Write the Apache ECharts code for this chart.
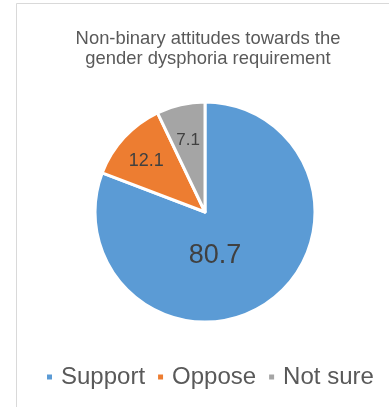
<!DOCTYPE html>
<html>
<head>
<meta charset="utf-8">
<script src="https://cdn.jsdelivr.net/npm/echarts@6/dist/echarts.min.js"></script>
<style>
  html, body { margin: 0; padding: 0; background: #fff; }
  #plot { width: 389px; height: 407px; }
</style>
</head>
<body>
<div id="plot"></div>
<script>
// 数据
var categories = ['Support', 'Oppose', 'Not sure'];
var values = [80.7, 12.1, 7.1];
var colors = ['#5B9BD5', '#ED7D31', '#A5A5A5'];

// 标签字号和偏移
var labelSizes = [27, 18, 17];
var labelShift = [[-23, -4], [-16, -12], [-4, -15]];

var myChart = echarts.init(document.getElementById('plot'));

var pieData = categories.map(function (name, i) {
  return {
    name: name,
    value: values[i],
    itemStyle: { color: colors[i] },
    label: { fontSize: labelSizes[i] }
  };
});

var option = {
  backgroundColor: '#fff',
  title: {
    text: 'Non-binary attitudes towards the\ngender dysphoria requirement',
    left: 203,
    textAlign: 'center',
    top: 24,
    textStyle: {
      fontFamily: 'Liberation Sans',
      fontSize: 18.4,
      fontWeight: 'normal',
      color: '#595959',
      lineHeight: 20
    }
  },
  legend: {
    data: categories,
    left: 40,
    top: 360,
    icon: 'rect',
    itemWidth: 7,
    itemHeight: 7,
    itemGap: 11,
    textStyle: {
      fontFamily: 'Liberation Sans',
      fontSize: 24,
      color: '#595959',
      padding: [0, 0, 0, 3]
    }
  },
  graphic: [{
    type: 'rect',
    shape: { x: 16.5, y: 3.5, width: 420, height: 440 },
    style: { fill: 'none', stroke: '#D9D9D9', lineWidth: 1 },
    silent: true
  }],
  series: [{
    name: 'Attitudes',
    type: 'pie',
    center: [205, 212],
    radius: [0, 110],
    startAngle: 90,
    clockwise: true,
    avoidLabelOverlap: false,
    itemStyle: { borderColor: '#fff', borderWidth: 3 },
    label: {
      show: true,
      position: 'inside',
      formatter: '{c}',
      fontFamily: 'Liberation Sans',
      color: '#404040'
    },
    labelLayout: function (params) {
      var s = labelShift[params.dataIndex];
      return { dx: s[0], dy: s[1] };
    },
    labelLine: { show: false },
    emphasis: { disabled: true },
    data: pieData
  }]
};

myChart.setOption(option);
</script>
</body>
</html>
